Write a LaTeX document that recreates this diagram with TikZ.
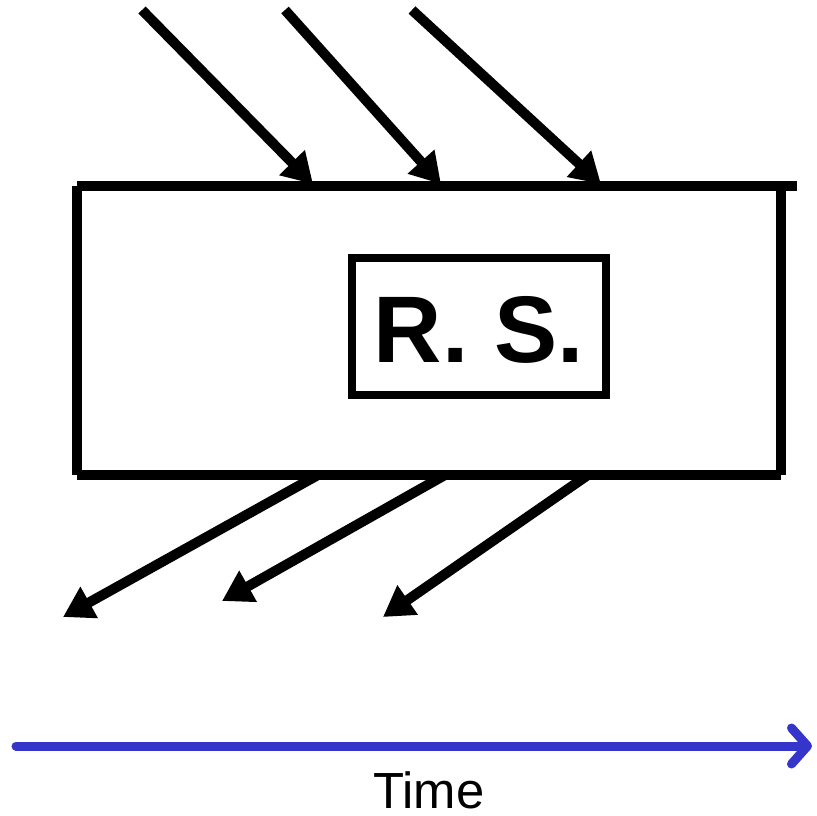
\documentclass[tikz,border=0pt]{standalone}
\usepackage{fontspec}
\setmainfont{Liberation Sans}
\usetikzlibrary{arrows.meta}
\definecolor{timeblue}{HTML}{3535CC}
\tikzset{
  thick line/.style={line width=10bp, draw=black},
  ray/.style={thick line, -{Triangle[length=30bp,width=34bp]}},
  timeaxis/.style={line width=9bp, draw=timeblue, line cap=round, -{Straight Barb[length=16bp,width=36bp,round]}}
}
\begin{document}
\begin{tikzpicture}[x=1bp,y=-1bp]
\useasboundingbox (0,0) rectangle (817,816);
% main box corners
\coordinate (tl) at (77,186);
\coordinate (tr) at (797,186);
\coordinate (rt) at (781,186);
\coordinate (rb) at (781,475);
\coordinate (bl) at (77,475);
\draw[thick line] (tl) -- (tr);
\draw[thick line] (tl) -- (bl);
\draw[thick line] (rt) -- (rb);
\draw[thick line] (bl) -- (rb);
% R.S. box
\node[draw=black, line width=8bp, minimum width=254bp, minimum height=137bp, inner sep=0pt] (rs) at (479,326.5) {};
\node[font=\fontsize{95}{95}\selectfont\bfseries, anchor=base] (rstext) at (479,362) {R. S.};
% incoming rays
\coordinate (i1) at (142,10); \coordinate (e1) at (313,184);
\coordinate (i2) at (285,10); \coordinate (e2) at (441,184);
\coordinate (i3) at (412,10); \coordinate (e3) at (601,184);
\draw[ray] (i1) -- (e1);
\draw[ray] (i2) -- (e2);
\draw[ray] (i3) -- (e3);
% outgoing rays
\coordinate (o1) at (318,475); \coordinate (f1) at (63,617);
\coordinate (o2) at (445,475); \coordinate (f2) at (222,601);
\coordinate (o3) at (588,475); \coordinate (f3) at (383,617);
\draw[ray] (o1) -- (f1);
\draw[ray] (o2) -- (f2);
\draw[ray] (o3) -- (f3);
% time axis
\coordinate (t0) at (16,746);
\coordinate (t1) at (812,746);
\draw[timeaxis] (t0) -- (t1);
\node[font=\fontsize{51}{51}\selectfont, anchor=base, inner sep=0pt, text depth=0pt] (time) at (429,808) {Time};
\end{tikzpicture}
\end{document}
